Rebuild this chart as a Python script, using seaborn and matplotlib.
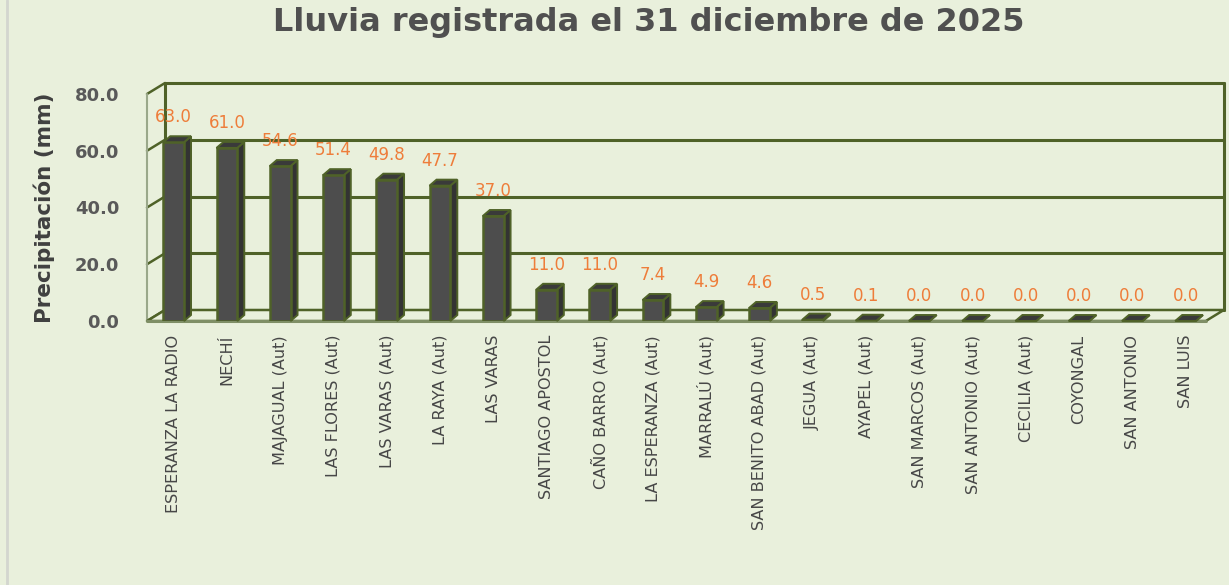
import numpy as np
import pandas as pd
import matplotlib
matplotlib.use("Agg")
import matplotlib.pyplot as plt
from matplotlib.patches import Polygon
from matplotlib.lines import Line2D
import seaborn as sns

estaciones = ["ESPERANZA LA RADIO", "NECHÍ", "MAJAGUAL (Aut)", "LAS FLORES (Aut)",
              "LAS VARAS (Aut)", "LA RAYA (Aut)", "LAS VARAS", "SANTIAGO APOSTOL",
              "CAÑO BARRO (Aut)", "LA ESPERANZA (Aut)", "MARRALÚ (Aut)",
              "SAN BENITO ABAD (Aut)", "JEGUA (Aut)", "AYAPEL (Aut)",
              "SAN MARCOS (Aut)", "SAN ANTONIO (Aut)", "CECILIA (Aut)",
              "COYONGAL", "SAN ANTONIO", "SAN LUIS"]
lluvia = [63.0, 61.0, 54.6, 51.4, 49.8, 47.7, 37.0, 11.0, 11.0, 7.4, 4.9, 4.6,
          0.5, 0.1, 0.0, 0.0, 0.0, 0.0, 0.0, 0.0]
y_ticks = [0, 20, 40, 60, 80]

df = pd.DataFrame({"estacion": estaciones, "mm": lluvia})

BG = "#E9F0DC"
GREEN = "#4F6228"
BAR = "#4D4D4D"
SIDE = "#333333"
TOP = "#3A3A3A"
ORANGE = "#EE7D3A"

sns.set_theme(style="white")
plt.rcParams["font.family"] = ["DejaVu Sans"]

W, H = 1229, 585
dpi = 100
fig = plt.figure(figsize=(W / dpi, H / dpi), dpi=dpi, facecolor=BG)

n_bars = len(df)
step = 53.26
xmin, xmax = -0.5, n_bars - 0.62
left_px = 147
right_px = left_px + step * (xmax - xmin)
bot_px, top_px = 321, 94
ax = fig.add_axes([left_px / W, (H - bot_px) / H,
                   (right_px - left_px) / W, (bot_px - top_px) / H])
ax.set_facecolor("none")

ymin, ymax = 0, 80
ppx = step
ppy = (bot_px - top_px) / (ymax - ymin)
# depth offsets (pixels -> data)
wdx, wdy = 18 / ppx, 11 / ppy
bdx, bdy = 7 / ppx, 6 / ppy

# back wall gridlines
for t in y_ticks:
    ax.add_line(Line2D([xmin + wdx, xmax + wdx], [t + wdy, t + wdy], color=GREEN,
                       lw=2.2, clip_on=False, zorder=1))
    ax.add_line(Line2D([xmin, xmin + wdx], [t, t + wdy], color=GREEN,
                       lw=1.8, clip_on=False, zorder=1))
ax.add_line(Line2D([xmin + wdx, xmin + wdx], [wdy, ymax + wdy], color=GREEN,
                   lw=2.2, clip_on=False, zorder=1))
ax.add_line(Line2D([xmax + wdx, xmax + wdx], [wdy, ymax + wdy], color=GREEN,
                   lw=2.2, clip_on=False, zorder=1))
ax.add_line(Line2D([xmin, xmin], [0, ymax], color="#9AA88A",
                   lw=1.5, clip_on=False, zorder=1))
# floor
floor = Polygon([[xmin, 0], [xmax, 0], [xmax + wdx, wdy], [xmin + wdx, wdy]],
                closed=True, facecolor=BG, edgecolor=GREEN, lw=1.8,
                clip_on=False, zorder=1.5)
ax.add_patch(floor)
ax.add_line(Line2D([xmin, xmax], [0, 0], color="#7F8F66", lw=2.2,
                   clip_on=False, zorder=1.6))

sns.barplot(data=df, x="estacion", y="mm", color=BAR, width=0.39,
            edgecolor=GREEN, linewidth=1.8, saturation=1, ax=ax, zorder=3)

bars = list(ax.containers[0])
for p, v in zip(bars, df["mm"]):
    x0 = p.get_x()
    w = p.get_width()
    h = p.get_height()
    side = Polygon([[x0 + w, 0], [x0 + w + bdx, bdy], [x0 + w + bdx, h + bdy], [x0 + w, h]],
                   closed=True, facecolor=SIDE, edgecolor=GREEN, lw=1.4,
                   clip_on=False, zorder=2.9)
    top = Polygon([[x0, h], [x0 + w, h], [x0 + w + bdx, h + bdy], [x0 + bdx, h + bdy]],
                  closed=True, facecolor=TOP, edgecolor=GREEN, lw=1.4,
                  clip_on=False, zorder=3.1)
    ax.add_patch(side)
    ax.add_patch(top)
    ax.text(x0 + w / 2, h + 25 / ppy, f"{v:.1f}", ha="center", va="center",
            color=ORANGE, fontsize=12, zorder=5, clip_on=False)

ax.set_xlim(xmin, xmax)
ax.set_ylim(ymin, ymax)
ax.set_yticks(y_ticks)
ax.set_yticklabels([f"{t:.1f}" for t in y_ticks], fontsize=13,
                   fontweight="bold", color="#595959")
ax.tick_params(axis="y", length=0, pad=20)
ax.tick_params(axis="x", length=0, pad=10)
ax.set_xticks(range(n_bars))
ax.set_xticklabels(df["estacion"], rotation=90, fontsize=11.6, color="#474747",
                   va="top", ha="center")
ax.set_xlabel("")
ax.set_ylabel("Precipitación (mm)", fontsize=15.5, fontweight="bold",
              color="#404040", labelpad=14)
for s in ax.spines.values():
    s.set_visible(False)

fig.text(649 / W, 1 - 23 / H, "Lluvia registrada el 31 diciembre de 2025",
         ha="center", va="center", fontsize=23, fontweight="bold", color="#505050")
fig.add_artist(Line2D([7 / W, 7 / W], [0, 1], transform=fig.transFigure,
                      color="#D3D6CF", lw=2))

fig.savefig("out.png", dpi=dpi, facecolor=BG)
